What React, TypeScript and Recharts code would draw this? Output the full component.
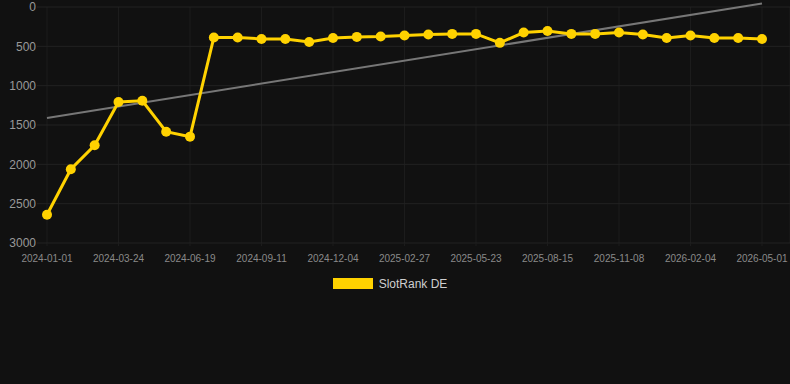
import React from "react";
import {
  LineChart,
  Line,
  XAxis,
  YAxis,
  CartesianGrid,
  Legend,
  ReferenceLine,
} from "recharts";

const dates = [
  "2024-01-01", "2024-01-29", "2024-02-26", "2024-03-24", "2024-04-22",
  "2024-05-21", "2024-06-19", "2024-07-17", "2024-08-14", "2024-09-11",
  "2024-10-09", "2024-11-06", "2024-12-04", "2025-01-01", "2025-01-30",
  "2025-02-27", "2025-03-27", "2025-04-25", "2025-05-23", "2025-06-20",
  "2025-07-18", "2025-08-15", "2025-09-12", "2025-10-11", "2025-11-08",
  "2025-12-07", "2026-01-06", "2026-02-04", "2026-03-04", "2026-04-02",
  "2026-05-01",
];

const rankDE = [
  2641, 2062, 1758, 1208, 1192, 1585, 1648, 388, 388, 406,
  406, 444, 393, 380, 376, 363, 350, 342, 342, 456,
  325, 304, 342, 342, 325, 350, 393, 363, 393, 393,
  406,
];

const xTickLabels = [
  "2024-01-01", "2024-03-24", "2024-06-19", "2024-09-11", "2024-12-04",
  "2025-02-27", "2025-05-23", "2025-08-15", "2025-11-08", "2026-02-04",
  "2026-05-01",
];

const yTicks = [0, 500, 1000, 1500, 2000, 2500, 3000];

const trendStart = 1410;
const trendEnd = -45;

const seriesName = "SlotRank DE";

const data = dates.map((d, i) => ({ date: d, rank: rankDE[i] }));

const YELLOW = "#FFD200";
const GRID_H = "#222222";
const GRID_V = "#1c1c1c";
const FONT = '"Liberation Sans", Arial, sans-serif';

const LegendContent = (props: any) => {
  const items = props.payload || [];
  return (
    <div
      style={{
        display: "flex",
        justifyContent: "center",
        alignItems: "center",
        height: 15,
        fontFamily: FONT,
      }}
    >
      {items.map((it: any, i: number) => (
        <div key={i} style={{ display: "flex", alignItems: "center" }}>
          <div
            style={{
              width: 40,
              height: 11,
              background: YELLOW,
              marginRight: 6,
            }}
          />
          <span style={{ color: "#cfcfcf", fontSize: 12 }}>{it.value}</span>
        </div>
      ))}
    </div>
  );
};

export default function App() {
  return (
    <div
      style={{
        position: "absolute",
        left: 0,
        top: 0,
        width: 790,
        height: 384,
        background: "#111111",
      }}
    >
      <LineChart
        width={790}
        height={384}
        data={data}
        margin={{ top: 7, right: 0, bottom: 111, left: 0 }}
      >
        <CartesianGrid stroke={GRID_V} strokeWidth={1} horizontal={false} />
        <CartesianGrid stroke={GRID_H} strokeWidth={1} vertical={false} />
        <XAxis
          dataKey="date"
          ticks={xTickLabels}
          interval={0}
          padding={{ left: 0, right: 28 }}
          tick={{ fill: "#8a8a8a", fontSize: 10, fontFamily: FONT }}
          tickLine={{ stroke: GRID_V }}
          axisLine={false}
          tickSize={3}
          tickMargin={9}
          height={30}
        />
        <YAxis
          reversed
          domain={[0, 3000]}
          ticks={yTicks}
          interval={0}
          width={47}
          tick={{ fill: "#999999", fontSize: 12, fontFamily: FONT }}
          tickLine={{ stroke: GRID_H }}
          axisLine={false}
          tickSize={10}
          tickMargin={1}
        />
        <ReferenceLine
          segment={[
            { x: dates[0], y: trendStart },
            { x: dates[dates.length - 1], y: trendEnd },
          ]}
          stroke="#777777"
          strokeWidth={2}
          ifOverflow="visible"
        />
        <Line
          type="linear"
          dataKey="rank"
          name={seriesName}
          stroke={YELLOW}
          strokeWidth={3}
          dot={{ r: 5, fill: YELLOW, stroke: YELLOW, strokeWidth: 0 }}
          activeDot={false}
          isAnimationActive={false}
        />
        <Legend
          verticalAlign="middle"
          content={<LegendContent />}
          wrapperStyle={{ top: 276, left: 0, width: 780 }}
        />
      </LineChart>
    </div>
  );
}
